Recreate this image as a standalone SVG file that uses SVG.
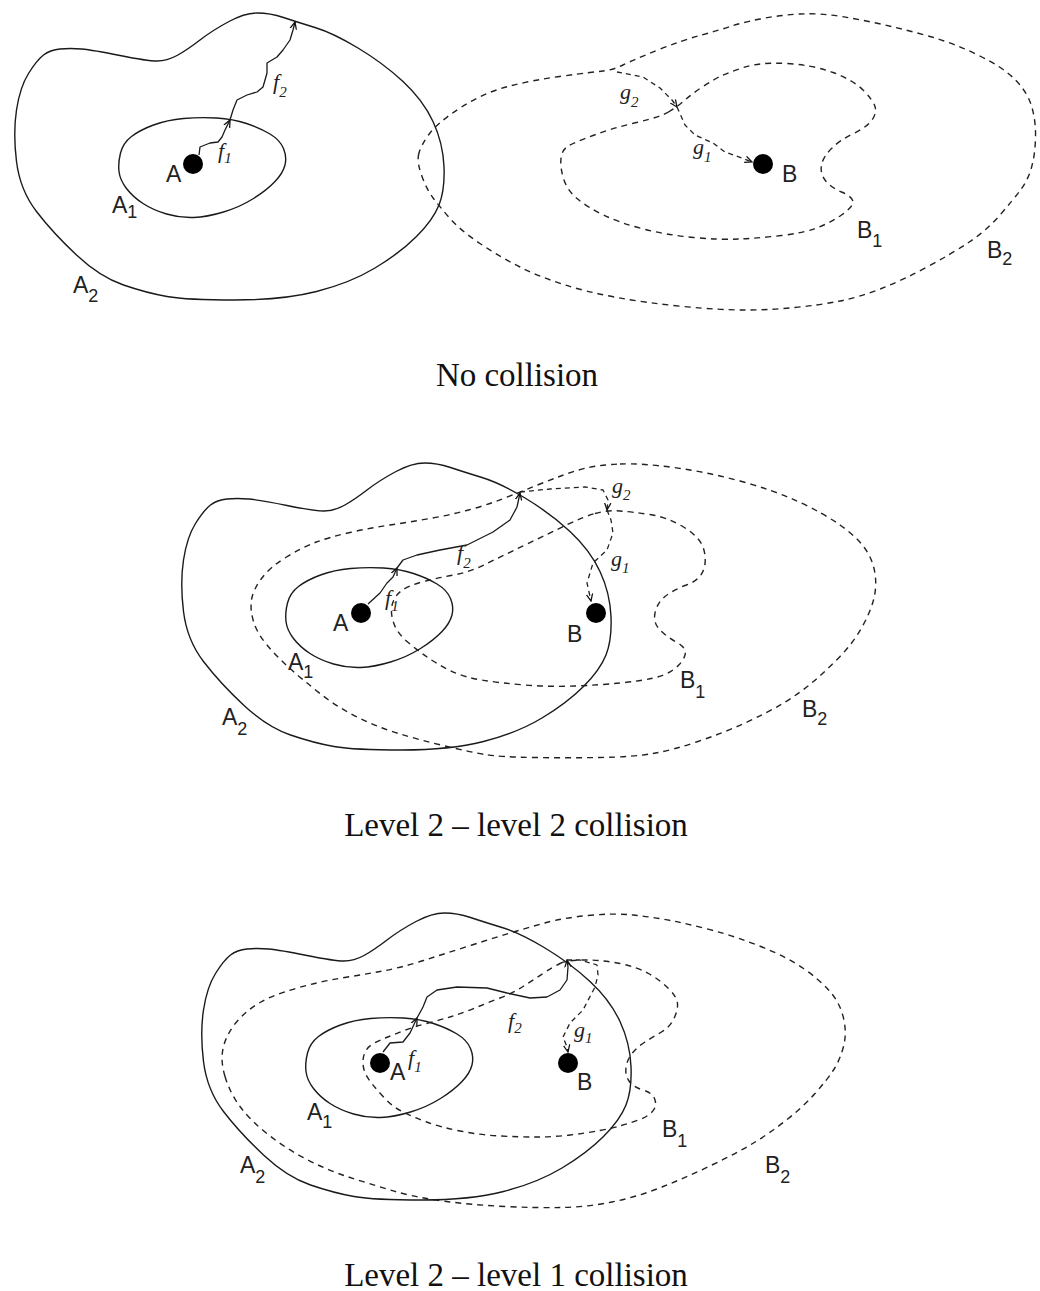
<svg xmlns="http://www.w3.org/2000/svg" xmlns:xlink="http://www.w3.org/1999/xlink" width="1040" height="1291" viewBox="0 0 1040 1291">
<style>
.solid{fill:none;stroke:#1a1a1a;stroke-width:1.4;stroke-linejoin:round}
.dash{fill:none;stroke:#222;stroke-width:1.4;stroke-dasharray:6 5;stroke-linejoin:round}
.fp{fill:none;stroke:#1a1a1a;stroke-width:1.3;stroke-linejoin:round}
.gp{fill:none;stroke:#222;stroke-width:1.3;stroke-dasharray:5 4;stroke-linejoin:round}
.dot{fill:#000}
.lbl{font-family:"Liberation Sans",Arial,sans-serif;font-size:23px;fill:#222}
.sub{font-size:18px}
.fn{font-family:"Liberation Serif","Times New Roman",serif;font-style:italic;font-size:22px;fill:#222}
.fs{font-size:15px}
.cap{font-family:"Liberation Serif","Times New Roman",serif;font-size:33px;text-anchor:middle;fill:#111}
</style>
<defs>
<marker id="arr" viewBox="0 0 10 10" refX="9" refY="5" markerWidth="8" markerHeight="8" markerUnits="userSpaceOnUse" orient="auto">
<path d="M0,1 L9,5 L0,9" fill="none" stroke="#111" stroke-width="1.6"/>
</marker>
<path id="a2shape" d="M43.5,55 Q50,50 60,49 Q70,48 81.5,49 Q93,50 120,55.5 Q147,61 157,61 Q167,61 177,55.5 Q187,50 200,40 Q213,30 229,21.5 Q245,13 257.5,13 Q270,13 283.5,17.5 Q297,22 315,27.5 Q333,33 358,48 Q383,63 403,81.5 Q423,100 433,121.5 Q443,143 444,166.5 Q445,190 439,205 Q433,220 416.5,236.5 Q400,253 375,268 Q350,283 316.5,291.5 Q283,300 235,300 Q187,300 167,296.5 Q147,293 123.5,285 Q100,277 76.5,255 Q53,233 36.5,211.5 Q20,190 16.5,161.5 Q13,133 16.5,110 Q20,87 28.5,73.5 Q37,60 43.5,55 Z"/>
<path id="a1shape" d="M119,171.5 Q118,163 120.5,153 Q123,143 131.5,136.5 Q140,130 153.5,125 Q167,120 183.5,118.5 Q200,117 216.5,118 Q233,119 246.5,123.5 Q260,128 270,134 Q280,140 283.5,148.5 Q287,157 285,165 Q283,173 275,181.5 Q267,190 253.5,198.5 Q240,207 223.5,212 Q207,217 193.5,217.5 Q180,218 166.5,214 Q153,210 143,203.5 Q133,197 126.5,188.5 Q120,180 119,171.5 Z"/>
</defs>
<rect width="1040" height="1291" fill="#fff"/>

<!-- Panel 1: No collision -->
<g id="panel1">
<g id="p1-A2"><use xlink:href="#a2shape" class="solid"/><text class="lbl" x="73" y="293">A<tspan class="sub" dy="9">2</tspan></text></g>
<g id="p1-A1"><use xlink:href="#a1shape" class="solid"/><text class="lbl" x="112" y="213">A<tspan class="sub" dy="5">1</tspan></text></g>
<g id="p1-A"><circle class="dot" cx="193" cy="164" r="10"/><text class="lbl" x="166" y="182">A</text></g>
<g id="p1-B2"><path class="dash" d="M418.5,155 Q420,147 428.5,135 Q437,123 460,108 Q483,93 508,86.5 Q533,80 563,76 Q593,72 603,71 Q613,70 623,65 Q633,60 658,50 Q683,40 701.5,35 Q720,30 730,26.5 Q740,23 760,19 Q780,15 800,14 Q820,13 841.5,16.5 Q863,20 885,25 Q907,30 930,36.5 Q953,43 978,55 Q1003,67 1015.5,80 Q1028,93 1032,107.5 Q1036,122 1035.5,138.5 Q1035,155 1031.5,167.5 Q1028,180 1020.5,190 Q1013,200 1000,215 Q987,230 970,241.5 Q953,253 928,266.5 Q903,280 881.5,288.5 Q860,297 840,301 Q820,305 795,307.5 Q770,310 745,310 Q720,310 683.5,306.5 Q647,303 617,297.5 Q587,292 563.5,284.5 Q540,277 520,267 Q500,257 480,243.5 Q460,230 450,218.5 Q440,207 433.5,198.5 Q427,190 422,176.5 Q417,163 418.5,155 Z"/><text class="lbl" x="987" y="258">B<tspan class="sub" dy="7">2</tspan></text></g>
<g id="p1-B1"><path class="dash" d="M668.5,112 Q677,107 685,100 Q693,93 703,86.5 Q713,80 720,76.5 Q727,73 743.5,67.5 Q760,62 786.5,63.5 Q813,65 833,72.5 Q853,80 863,90 Q873,100 875,106.5 Q877,113 872,120 Q867,127 853.5,133.5 Q840,140 831.5,148.5 Q823,157 821.5,165 Q820,173 825,180 Q830,187 841.5,192 Q853,197 853,202 Q853,207 841.5,215 Q830,223 816.5,228 Q803,233 781.5,235.5 Q760,238 740,239 Q720,240 693.5,237.5 Q667,235 643.5,229 Q620,223 603.5,215 Q587,207 577,198.5 Q567,190 563.5,178.5 Q560,167 561,158.5 Q562,150 567.5,146.5 Q573,143 593,135.5 Q613,128 636.5,122.5 Q660,117 668.5,112 Z"/><text class="lbl" x="857" y="238">B<tspan class="sub" dy="9">1</tspan></text></g>
<g id="p1-B"><circle class="dot" cx="763" cy="164" r="10"/><text class="lbl" x="782" y="182">B</text></g>
<g id="p1-connectors">
<path class="fp" marker-end="url(#arr)" d="M199,155 L200,147 L210,143 L218,142 L222,137 L225,130 L230,120"/>
<path class="fp" marker-end="url(#arr)" d="M230,120 L233,110 L237,100 L247,95 L257,92 L263,87 L267,73 L267,63 L277,57 L283,50 L290,40 L293,30 L295,22"/>
<path class="gp" marker-end="url(#arr)" d="M617,72 L643,77 L660,88 L672,100 L677,107"/>
<path class="gp" marker-end="url(#arr)" d="M677,107 L685,125 L695,135 L713,143 L725,152 L742,158 L752,162"/>
<text class="fn" x="218" y="158">f<tspan class="fs" dy="5">1</tspan></text>
<text class="fn" x="273" y="89">f<tspan class="fs" dy="8">2</tspan></text>
<text class="fn" x="620" y="99">g<tspan class="fs" dy="8">2</tspan></text>
<text class="fn" x="693" y="154">g<tspan class="fs" dy="8">1</tspan></text>
</g>
<text class="cap" x="517" y="386">No collision</text>
</g>

<!-- Panel 2: Level 2 - level 2 collision -->
<g id="panel2">
<g id="p2-A2"><use xlink:href="#a2shape" class="solid" transform="translate(167,450)"/><text class="lbl" x="222" y="725">A<tspan class="sub" dy="10">2</tspan></text></g>
<g id="p2-A1"><use xlink:href="#a1shape" class="solid" transform="translate(167,450)"/><text class="lbl" x="288" y="670">A<tspan class="sub" dy="8">1</tspan></text></g>
<g id="p2-A"><circle class="dot" cx="361" cy="613" r="10"/><text class="lbl" x="333" y="631">A</text></g>
<g id="p2-B2"><path class="dash" d="M620,464 Q640,463 673.5,467.5 Q707,472 740,481 Q773,490 798,501.5 Q823,513 840,525 Q857,537 865,548.5 Q873,560 875,573.5 Q877,587 873.5,600 Q870,613 861.5,628 Q853,643 840,656.5 Q827,670 813.5,681.5 Q800,693 783.5,703 Q767,713 745,723 Q723,733 698,741.5 Q673,750 653,753.5 Q633,757 600,757.5 Q567,758 533.5,757.5 Q500,757 485,754.5 Q470,752 445,746 Q420,740 398.5,733.5 Q377,727 357,717 Q337,707 320,693.5 Q303,680 290,668.5 Q277,657 267,645 Q257,633 253.5,621.5 Q250,610 251.5,600 Q253,590 261.5,578.5 Q270,567 286.5,557 Q303,547 316.5,542 Q330,537 350,532.5 Q370,528 390,525 Q410,522 430,518.5 Q450,515 468.5,510 Q487,505 503.5,498.5 Q520,492 535,486 Q550,480 563.5,475 Q577,470 588.5,467.5 Q600,465 620,464 Z"/><text class="lbl" x="802" y="717">B<tspan class="sub" dy="8">2</tspan></text></g>
<g id="p2-B1"><path class="dash" d="M595,513.5 Q607,510 620,511 Q633,512 650,514.5 Q667,517 683.5,527 Q700,537 703.5,548.5 Q707,560 703.5,570 Q700,580 686.5,585 Q673,590 665,596.5 Q657,603 655,613 Q653,623 660,630 Q667,637 677,642.5 Q687,648 685,655 Q683,662 675,668.5 Q667,675 653.5,678 Q640,681 620,683 Q600,685 575,686 Q550,687 525,685 Q500,683 481.5,680 Q463,677 450,670.5 Q437,664 427,657 Q417,650 407,641.5 Q397,633 393.5,622.5 Q390,612 392.5,603.5 Q395,595 402.5,590 Q410,585 423.5,581.5 Q437,578 453.5,575 Q470,572 485,564.5 Q500,557 525,545 Q550,533 566.5,525 Q583,517 595,513.5 Z"/><text class="lbl" x="680" y="688">B<tspan class="sub" dy="10">1</tspan></text></g>
<g id="p2-B"><circle class="dot" cx="596" cy="613" r="10"/><text class="lbl" x="567" y="642">B</text></g>
<g id="p2-connectors">
<path class="fp" marker-end="url(#arr)" d="M368,604 L380,593 L387,583 L393,577 L397,568"/>
<path class="fp" marker-end="url(#arr)" d="M397,568 L403,560 L417,555 L440,550 L467,545 L477,540 L493,532 L510,520 L517,507 L520,493"/>
<path class="gp" marker-end="url(#arr)" d="M520,492 L550,489 L585,487 L603,490 L608,500 L607,510"/>
<path class="gp" marker-end="url(#arr)" d="M607,510 L611,520 L613,533 L607,550 L593,563 L587,583 L591,601"/>
<text class="fn" x="385" y="605">f<tspan class="fs" dy="6">1</tspan></text>
<text class="fn" x="457" y="560">f<tspan class="fs" dy="8">2</tspan></text>
<text class="fn" x="612" y="493">g<tspan class="fs" dy="7">2</tspan></text>
<text class="fn" x="611" y="566">g<tspan class="fs" dy="7">1</tspan></text>
</g>
<text class="cap" x="516" y="836">Level 2 – level 2 collision</text>
</g>

<!-- Panel 3: Level 2 - level 1 collision -->
<g id="panel3">
<g id="p3-A2"><use xlink:href="#a2shape" class="solid" transform="translate(187,900)"/><text class="lbl" x="240" y="1173">A<tspan class="sub" dy="10">2</tspan></text></g>
<g id="p3-A1"><use xlink:href="#a1shape" class="solid" transform="translate(187,900)"/><text class="lbl" x="307" y="1120">A<tspan class="sub" dy="8">1</tspan></text></g>
<g id="p3-A"><circle class="dot" cx="380" cy="1063" r="10"/><text class="lbl" x="390" y="1080">A</text></g>
<g id="p3-B2"><path class="dash" d="M225,1076.5 Q220,1060 223.5,1046.5 Q227,1033 237,1021.5 Q247,1010 260,1002.5 Q273,995 295.5,988.5 Q318,982 339,978.5 Q360,975 380,971.5 Q400,968 423.5,960.5 Q447,953 472,945 Q497,937 513.5,932 Q530,927 546.5,922.5 Q563,918 588,915.5 Q613,913 633,915 Q653,917 673,921 Q693,925 715,931 Q737,937 762,947 Q787,957 803.5,968.5 Q820,980 830,991.5 Q840,1003 843.5,1018 Q847,1033 843.5,1046.5 Q840,1060 833.5,1070 Q827,1080 815,1093.5 Q803,1107 786.5,1120 Q770,1133 753.5,1143 Q737,1153 712,1165 Q687,1177 662,1187 Q637,1197 612,1202 Q587,1207 562,1207.5 Q537,1208 505,1206.5 Q473,1205 443,1201 Q413,1197 390,1190 Q367,1183 347,1176.5 Q327,1170 306,1159 Q285,1148 267.5,1134 Q250,1120 240,1106.5 Q230,1093 225,1076.5 Z"/><text class="lbl" x="765" y="1173">B<tspan class="sub" dy="10">2</tspan></text></g>
<g id="p3-B1"><path class="dash" d="M560,963.5 Q567,960 585,960 Q603,960 620,963.5 Q637,967 648.5,973.5 Q660,980 668.5,988.5 Q677,997 677.5,1003.5 Q678,1010 674,1018.5 Q670,1027 661.5,1032 Q653,1037 645,1042 Q637,1047 632,1053.5 Q627,1060 626,1067.5 Q625,1075 629,1081 Q633,1087 643,1090 Q653,1093 655,1100 Q657,1107 652,1112 Q647,1117 638.5,1120 Q630,1123 621.5,1125.5 Q613,1128 600,1130.5 Q587,1133 570,1135 Q553,1137 536.5,1137 Q520,1137 500,1136 Q480,1135 460,1131 Q440,1127 426.5,1122 Q413,1117 403,1112 Q393,1107 385,1098.5 Q377,1090 371,1082.5 Q365,1075 363.5,1067.5 Q362,1060 364.5,1053.5 Q367,1047 373.5,1043.5 Q380,1040 386.5,1037.5 Q393,1035 403,1031 Q413,1027 426.5,1023.5 Q440,1020 451.5,1016.5 Q463,1013 475,1008 Q487,1003 500,998 Q513,993 523,986.5 Q533,980 543,973.5 Q553,967 560,963.5 Z"/><text class="lbl" x="662" y="1137">B<tspan class="sub" dy="10">1</tspan></text></g>
<g id="p3-B"><circle class="dot" cx="568" cy="1063" r="10"/><text class="lbl" x="577" y="1090">B</text></g>
<g id="p3-connectors">
<path class="fp" marker-end="url(#arr)" d="M383,1052 L390,1043 L403,1042 L410,1033 L417,1018"/>
<path class="fp" marker-end="url(#arr)" d="M417,1018 L423,1007 L427,997 L437,990 L457,987 L487,988 L507,993 L530,998 L547,997 L560,990 L567,980 L568,967 L567,960"/>
<path class="gp" marker-end="url(#arr)" d="M567,960 L580,960 L597,965 L598,975 L595,987 L583,1010 L570,1023 L563,1037 L567,1047 L568,1052"/>
<text class="fn" x="408" y="1065">f<tspan class="fs" dy="7">1</tspan></text>
<text class="fn" x="508" y="1028">f<tspan class="fs" dy="5">2</tspan></text>
<text class="fn" x="574" y="1037">g<tspan class="fs" dy="6">1</tspan></text>
</g>
<text class="cap" x="516" y="1286">Level 2 – level 1 collision</text>
</g>
</svg>
